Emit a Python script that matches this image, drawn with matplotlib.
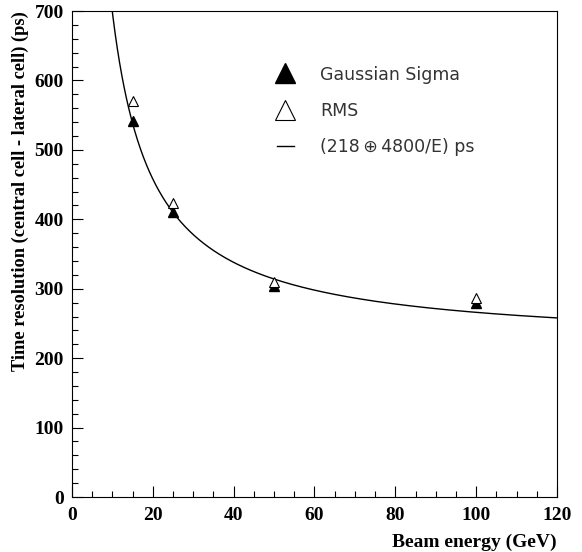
import numpy as np
import matplotlib
matplotlib.use("Agg")
import matplotlib.pyplot as plt
from matplotlib.ticker import MultipleLocator

energy = [15, 25, 50, 100]
gauss_sigma = [541, 411, 304, 280]
rms = [570, 424, 310, 287]
fit_const = 218.0
fit_slope = 4800.0

fig = plt.figure(figsize=(5.82, 5.52), dpi=100)
ax = fig.add_axes([0.1237, 0.0996, 0.8333, 0.8804])

e_fit = np.linspace(9.0, 120.0, 600)
res_fit = fit_const + fit_slope / e_fit
ax.plot(e_fit, res_fit, color="black", lw=1.0, label="(218\u2009\u2295\u20094800/E) ps", zorder=2)
ax.plot(energy, gauss_sigma, linestyle="none", marker="^", color="black",
        markersize=7, label="Gaussian Sigma", zorder=3)
ax.plot(energy, rms, linestyle="none", marker="^", markerfacecolor="white",
        markeredgecolor="black", markeredgewidth=0.8, markersize=7, label="RMS", zorder=3)

ax.set_xlim(0, 120)
ax.set_ylim(0, 700)
ax.xaxis.set_major_locator(MultipleLocator(20))
ax.xaxis.set_minor_locator(MultipleLocator(5))
ax.yaxis.set_major_locator(MultipleLocator(100))
ax.yaxis.set_minor_locator(MultipleLocator(20))
ax.tick_params(which="both", direction="in", top=False, right=False)
ax.tick_params(which="major", length=8, width=0.8)
ax.tick_params(which="minor", length=4, width=0.8)
for sp in ax.spines.values():
    sp.set_linewidth(0.8)

for lab in ax.get_xticklabels() + ax.get_yticklabels():
    lab.set_fontfamily("Liberation Serif")
    lab.set_fontweight("bold")
    lab.set_fontsize(14)
ax.tick_params(axis="x", pad=7)
ax.tick_params(axis="y", pad=6)

ax.set_xlabel("Beam energy (GeV)",
              fontdict={"family": "Liberation Serif", "weight": "bold", "size": 14},
              ha="right", va="center")
ax.xaxis.set_label_coords(1.0, -0.094)
ax.set_ylabel("Time resolution (central cell - lateral cell) (ps)",
              fontdict={"family": "Liberation Serif", "weight": "bold", "size": 13.2},
              ha="right", va="center")
ax.yaxis.set_label_coords(-0.106, 1.0)

handles, labels = ax.get_legend_handles_labels()
order = [1, 2, 0]
leg = ax.legend([handles[i] for i in order], [labels[i] for i in order],
                loc="upper left", bbox_to_anchor=(0.39, 0.92), frameon=False,
                prop={"family": "DejaVu Sans", "size": 12.5}, markerscale=2.0,
                handlelength=1.0, handletextpad=1.5, labelspacing=1.05)
for t in leg.get_texts():
    t.set_color("#333333")

fig.savefig("out.png", dpi=100, facecolor="white")
